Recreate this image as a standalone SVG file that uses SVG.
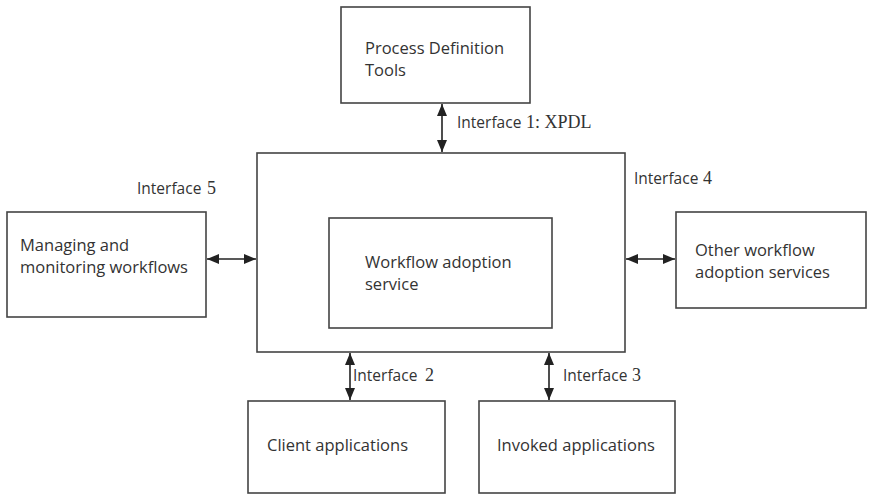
<svg xmlns="http://www.w3.org/2000/svg" width="876" height="499" viewBox="0 0 876 499">
  <defs>
    <marker id="ah" viewBox="0 0 12 10" refX="12" refY="5" markerWidth="12" markerHeight="10" markerUnits="userSpaceOnUse" orient="auto-start-reverse">
      <path d="M0,0 L12,5 L0,10 z" fill="#222"/>
    </marker>
    <style>
      .box { fill: #fff; stroke: #444; stroke-width: 1.6; }
      .lbl { font-family: "Open Sans", "Noto Sans", sans-serif; font-size: 16.5px; fill: #333; }
      .ifc { font-family: "Open Sans", "Noto Sans", sans-serif; font-size: 15.5px; fill: #333; }
      .num { font-family: "Liberation Serif", serif; font-size: 18px; fill: #333; }
      .conn { stroke: #222; stroke-width: 1.6; fill: none; marker-start: url(#ah); marker-end: url(#ah); }
    </style>
  </defs>
  <rect width="876" height="499" fill="#fff"/>

  <g id="process-definition-tools">
    <rect class="box" x="341" y="7" width="189" height="96"/>
    <text class="lbl" x="365" y="54">Process Definition</text>
    <text class="lbl" x="365" y="76">Tools</text>
  </g>

  <g id="workflow-engine">
    <rect class="box" x="257" y="153" width="368" height="199"/>
  </g>

  <g id="workflow-adoption-service">
    <rect class="box" x="329" y="218" width="223" height="110"/>
    <text class="lbl" x="365" y="268">Workflow adoption</text>
    <text class="lbl" x="365" y="290">service</text>
  </g>

  <g id="managing-monitoring">
    <rect class="box" x="7" y="212" width="199" height="105"/>
    <text class="lbl" x="20" y="251">Managing and</text>
    <text class="lbl" x="20" y="273">monitoring workflows</text>
  </g>

  <g id="other-services">
    <rect class="box" x="676" y="212" width="190" height="96"/>
    <text class="lbl" x="695" y="256">Other workflow</text>
    <text class="lbl" x="695" y="278">adoption services</text>
  </g>

  <g id="client-applications">
    <rect class="box" x="248" y="401" width="197" height="92"/>
    <text class="lbl" x="267" y="451">Client applications</text>
  </g>

  <g id="invoked-applications">
    <rect class="box" x="479" y="401" width="196" height="92"/>
    <text class="lbl" x="497" y="451">Invoked applications</text>
  </g>

  <g id="connectors">
    <line class="conn" x1="442" y1="104" x2="442" y2="152"/>
    <line class="conn" x1="207" y1="259" x2="256" y2="259"/>
    <line class="conn" x1="626" y1="259" x2="675" y2="259"/>
    <line class="conn" x1="350" y1="353" x2="350" y2="400"/>
    <line class="conn" x1="549" y1="353" x2="549" y2="400"/>
  </g>

  <g id="interface-labels">
    <text class="ifc" x="457" y="128">Interface</text>
    <text class="num" x="526" y="128">1: XPDL</text>
    <text class="ifc" x="137" y="194">Interface</text>
    <text class="num" x="207" y="194">5</text>
    <text class="ifc" x="634" y="184">Interface</text>
    <text class="num" x="703" y="184">4</text>
    <text class="ifc" x="353" y="381">Interface</text>
    <text class="num" x="425" y="381">2</text>
    <text class="ifc" x="563" y="381">Interface</text>
    <text class="num" x="632" y="381">3</text>
  </g>
</svg>
